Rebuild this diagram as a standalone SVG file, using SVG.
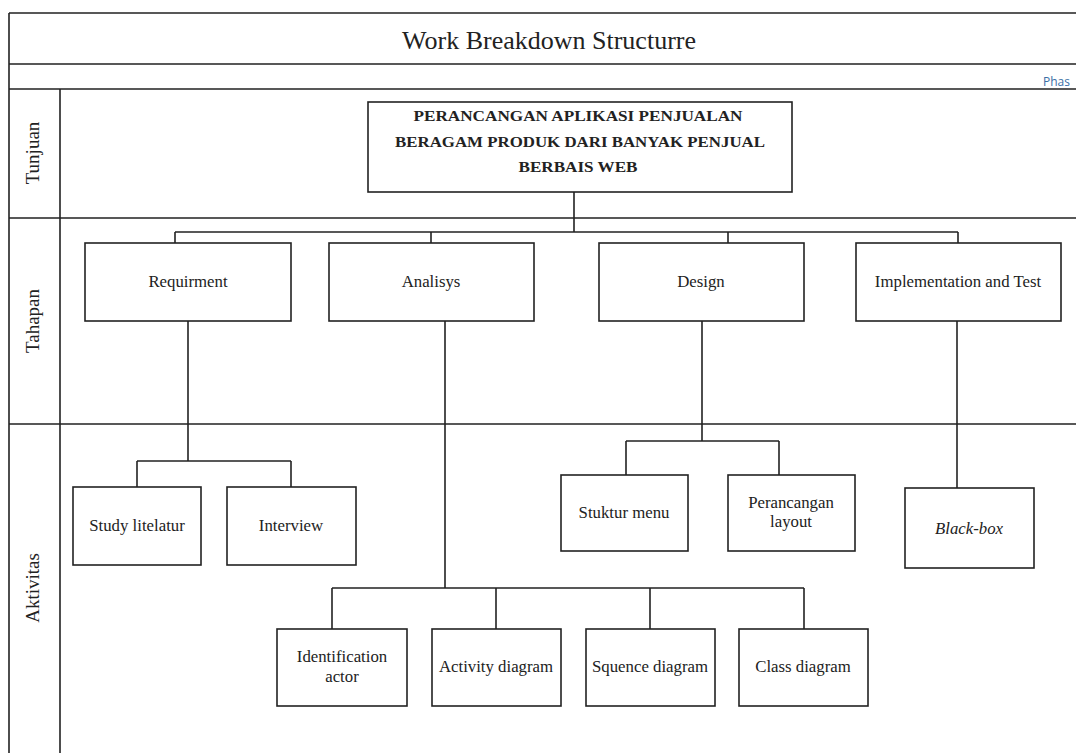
<svg xmlns="http://www.w3.org/2000/svg" width="1076" height="753" viewBox="0 0 1076 753">
<style>
.frame{stroke:#222;stroke-width:1.6;fill:none}
.box{fill:#fff;stroke:#222;stroke-width:1.6}
.conn{stroke:#222;stroke-width:1.6;fill:none}
.t{font-family:"Liberation Serif","Times New Roman",serif;font-size:16.8px;fill:#222;text-anchor:middle}
.tb{font-family:"Liberation Serif","Times New Roman",serif;font-size:15px;font-weight:bold;fill:#222;text-anchor:middle}
.lane{font-family:"Liberation Serif","Times New Roman",serif;font-size:19px;fill:#222;text-anchor:middle}
</style>
<rect width="1076" height="753" fill="#fff"/>
<g id="frame">
<path class="frame" d="M9,13 H1076 M9,13 V753 M9,64 H1076 M9,89 H1076 M9,218 H1076 M9,424 H1076 M60,89 V753"/>
<text x="549" y="49" font-family="Liberation Serif, Times New Roman, serif" font-size="26" fill="#222" text-anchor="middle" textLength="294" lengthAdjust="spacingAndGlyphs">Work Breakdown Structurre</text>
<text x="1043" y="86" font-family="Open Sans, Liberation Sans, sans-serif" font-size="12" fill="#3a6ea5">Phas</text>
</g>
<g id="lanes">
<text class="lane" transform="translate(39,153) rotate(-90)">Tunjuan</text>
<text class="lane" transform="translate(39,321) rotate(-90)">Tahapan</text>
<text class="lane" transform="translate(39,588) rotate(-90)">Aktivitas</text>
</g>
<g id="connectors">
<path class="conn" d="M574,192 V232 M175,232 H958 M175,232 V243 M431,232 V243 M728,232 V243 M958,232 V243"/>
<path class="conn" d="M188,321 V461 M137,461 H291 M137,461 V487 M291,461 V487"/>
<path class="conn" d="M445,321 V588 M332,588 H804 M332,588 V629 M496,588 V629 M650,588 V629 M804,588 V629"/>
<path class="conn" d="M702,321 V441 M626,441 H779 M626,441 V475 M779,441 V475"/>
<path class="conn" d="M957,321 V488"/>
</g>
<g id="goal">
<rect class="box" x="368" y="102" width="424" height="90"/>
<text class="tb" x="578" y="121" textLength="329" lengthAdjust="spacingAndGlyphs">PERANCANGAN APLIKASI PENJUALAN</text>
<text class="tb" x="580" y="147" textLength="370" lengthAdjust="spacingAndGlyphs">BERAGAM PRODUK DARI BANYAK PENJUAL</text>
<text class="tb" x="578" y="172" textLength="119" lengthAdjust="spacingAndGlyphs">BERBAIS WEB</text>
</g>
<g id="requirment"><rect class="box" x="85" y="243" width="206" height="78"/><text class="t" x="188" y="287">Requirment</text></g>
<g id="analisys"><rect class="box" x="329" y="243" width="205" height="78"/><text class="t" x="431" y="287">Analisys</text></g>
<g id="design"><rect class="box" x="599" y="243" width="205" height="78"/><text class="t" x="701" y="287">Design</text></g>
<g id="implementation"><rect class="box" x="856" y="243" width="205" height="78"/><text class="t" x="958" y="287">Implementation and Test</text></g>
<g id="study"><rect class="box" x="73" y="487" width="128" height="78"/><text class="t" x="137" y="531">Study litelatur</text></g>
<g id="interview"><rect class="box" x="227" y="487" width="129" height="78"/><text class="t" x="291" y="531">Interview</text></g>
<g id="stuktur"><rect class="box" x="561" y="475" width="127" height="76"/><text class="t" x="624" y="518">Stuktur menu</text></g>
<g id="layout"><rect class="box" x="728" y="475" width="127" height="76"/><text class="t" x="791" y="508">Perancangan</text><text class="t" x="791" y="527">layout</text></g>
<g id="blackbox"><rect class="box" x="905" y="488" width="129" height="80"/><text class="t" x="969" y="534" font-style="italic">Black-box</text></g>
<g id="identification"><rect class="box" x="277" y="629" width="130" height="77"/><text class="t" x="342" y="662">Identification</text><text class="t" x="342" y="682">actor</text></g>
<g id="activity"><rect class="box" x="432" y="629" width="129" height="77"/><text class="t" x="496" y="672">Activity diagram</text></g>
<g id="squence"><rect class="box" x="586" y="629" width="129" height="77"/><text class="t" x="650" y="672">Squence diagram</text></g>
<g id="class"><rect class="box" x="739" y="629" width="129" height="77"/><text class="t" x="803" y="672">Class diagram</text></g>
</svg>
